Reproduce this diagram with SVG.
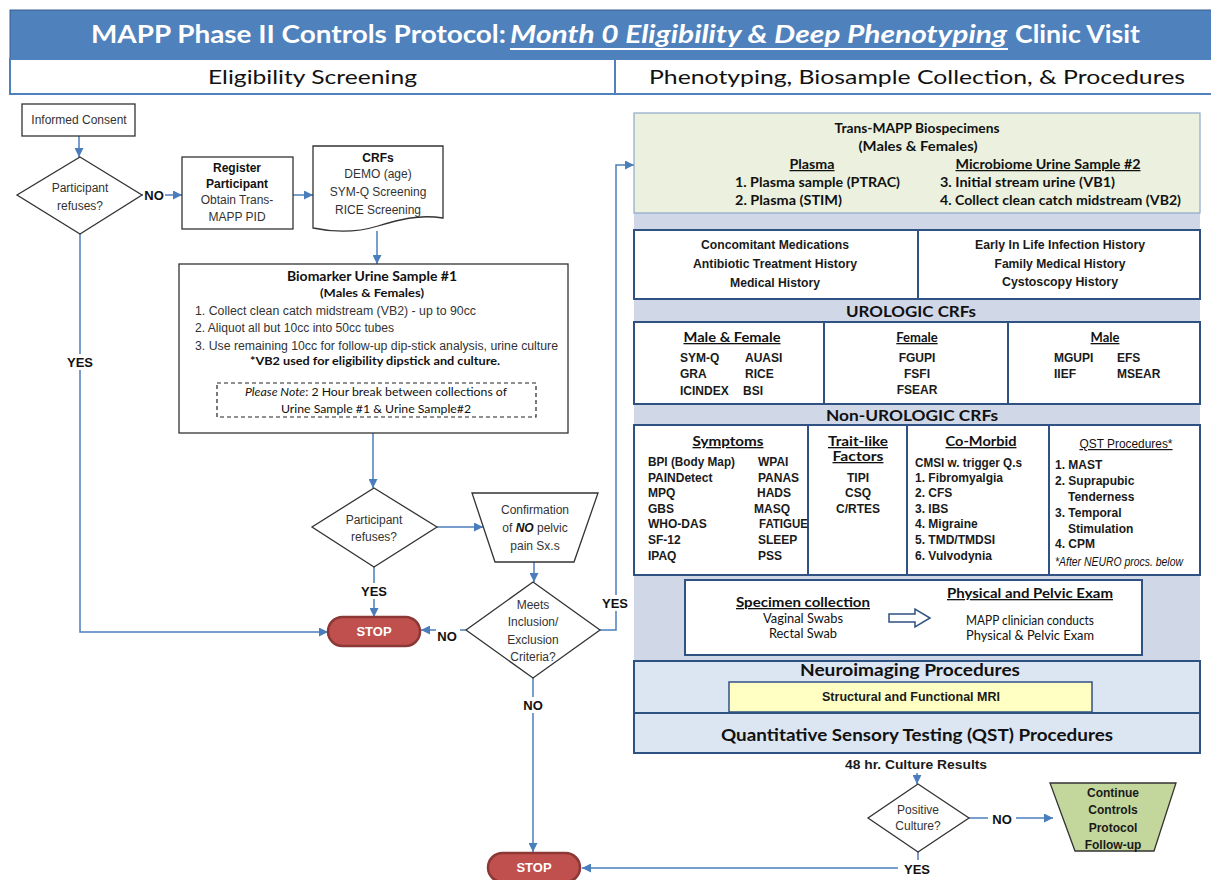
<svg xmlns="http://www.w3.org/2000/svg" width="1211" height="880" viewBox="0 0 1211 880">
<style>
.t{font-family:"Liberation Sans",Arial,sans-serif;font-size:12px;fill:#333}
.tb{font-family:"Liberation Sans",Arial,sans-serif;font-size:12px;font-weight:bold;fill:#1a1a1a}
.c{font-family:Lato,"Open Sans",sans-serif;fill:#111}
.cb{font-family:Lato,"Open Sans",sans-serif;font-weight:bold;fill:#111}
.lbl{font-family:"Liberation Sans",Arial,sans-serif;font-size:13px;font-weight:bold;fill:#111}
.m{text-anchor:middle}
.u{text-decoration:underline}
.node{fill:#fff;stroke:#333;stroke-width:1.3}
.stop{fill:#C0504D;stroke:#8C3836;stroke-width:2.5}
.stoptx{font-family:"Liberation Sans",Arial,sans-serif;font-size:13px;font-weight:bold;fill:#fff}
.pan{stroke:#2F5283;stroke-width:2}
.con{fill:none;stroke:#4A7EBB;stroke-width:1.5}
</style>
<defs>
<marker id="ah" viewBox="0 0 10 10" refX="10" refY="5" markerWidth="10" markerHeight="9" markerUnits="userSpaceOnUse" orient="auto"><path d="M0,0 L10,5 L0,10 z" fill="#4A7EBB"/></marker>
</defs>
<rect width="1211" height="880" fill="#fff"/>

<g id="header">
<rect x="10" y="10" width="1203" height="49" fill="#4F81BD" stroke="#3A5F8C" stroke-width="1"/>
<text x="91" y="43" class="c" font-size="25" font-weight="bold" style="fill:#fff" textLength="415" lengthAdjust="spacingAndGlyphs">MAPP Phase II Controls Protocol:</text>
<text x="510" y="43" class="c" font-size="25" font-weight="bold" font-style="italic" style="fill:#fff" textLength="497" lengthAdjust="spacingAndGlyphs">Month 0 Eligibility &amp; Deep Phenotyping</text>
<line x1="510" y1="49" x2="1008" y2="49" stroke="#fff" stroke-width="2"/>
<text x="1015" y="43" class="c" font-size="25" font-weight="bold" style="fill:#fff" textLength="125" lengthAdjust="spacingAndGlyphs">Clinic Visit</text>
<rect x="10" y="59" width="1203" height="35" fill="#fff" stroke="#4F81BD" stroke-width="2"/>
<line x1="615" y1="59" x2="615" y2="94" stroke="#4F81BD" stroke-width="2"/>
<text x="208" y="84" class="c" font-size="20" textLength="209" lengthAdjust="spacingAndGlyphs">Eligibility Screening</text>
<text x="649" y="84" class="c" font-size="20" textLength="536" lengthAdjust="spacingAndGlyphs">Phenotyping, Biosample Collection, &amp; Procedures</text>
</g>

<g id="connectors">
<path class="con" d="M79,136 V157" marker-end="url(#ah)"/>
<path class="con" d="M142,195 H182" marker-end="url(#ah)"/>
<path class="con" d="M293,195 H313" marker-end="url(#ah)"/>
<path class="con" d="M377,231 V264" marker-end="url(#ah)"/>
<path class="con" d="M373,433 V488" marker-end="url(#ah)"/>
<path class="con" d="M437,527 H483" marker-end="url(#ah)"/>
<path class="con" d="M534,562 V582" marker-end="url(#ah)"/>
<path class="con" d="M374,567 V617" marker-end="url(#ah)"/>
<path class="con" d="M466,630 H421" marker-end="url(#ah)"/>
<path class="con" d="M600,630 H616 V165 H634" marker-end="url(#ah)"/>
<path class="con" d="M533,678 V852" marker-end="url(#ah)"/>
<path class="con" d="M80,234 V632 H328" marker-end="url(#ah)"/>
<path class="con" d="M917,773 V784" marker-end="url(#ah)"/>
<path class="con" d="M969,818 H1053" marker-end="url(#ah)"/>
<path class="con" d="M918,852 V868 H582" marker-end="url(#ah)"/>
<rect x="143" y="187" width="22" height="16" fill="#fff"/>
<text x="154" y="200" class="lbl m">NO</text>
<rect x="62" y="354" width="36" height="16" fill="#fff"/>
<text x="80" y="367" class="lbl m">YES</text>
<rect x="356" y="583" width="36" height="16" fill="#fff"/>
<text x="374" y="596" class="lbl m">YES</text>
<rect x="436" y="628" width="24" height="16" fill="#fff"/>
<text x="447" y="641" class="lbl m">NO</text>
<rect x="598" y="595" width="36" height="16" fill="#fff"/>
<text x="615" y="608" class="lbl m">YES</text>
<rect x="520" y="697" width="26" height="16" fill="#fff"/>
<text x="533" y="710" class="lbl m">NO</text>
<rect x="988" y="811" width="28" height="16" fill="#fff"/>
<text x="1002" y="824" class="lbl m">NO</text>
<rect x="898" y="860" width="38" height="18" fill="#fff"/>
<text x="917" y="874" class="lbl m">YES</text>
</g>

<g id="informed-consent">
<rect class="node" x="22" y="104" width="113" height="32"/>
<text x="79" y="124" class="t m">Informed  Consent</text>
</g>
<g id="refuses-1">
<polygon class="node" points="80,157 142,195 80,234 17,195"/>
<text x="80" y="192" class="t m">Participant</text>
<text x="80" y="210" class="t m">refuses?</text>
</g>
<g id="register">
<rect class="node" x="182" y="157" width="111" height="72"/>
<text x="237" y="172" class="t m" font-weight="bold" style="fill:#111">Register</text>
<text x="237" y="188" class="t m" font-weight="bold" style="fill:#111">Participant</text>
<text x="237" y="204" class="t m">Obtain  Trans-</text>
<text x="237" y="221" class="t m">MAPP PID</text>
</g>
<g id="crfs">
<path class="node" d="M313,146 H443 V218 C418,214 398,220 378,226 C355,233 332,232 313,228 Z"/>
<text x="378" y="162" class="t m" font-weight="bold" style="fill:#111">CRFs</text>
<text x="378" y="178" class="t m">DEMO (age)</text>
<text x="378" y="196" class="t m">SYM-Q Screening</text>
<text x="378" y="214" class="t m">RICE Screening</text>
</g>
<g id="biomarker">
<rect class="node" x="179" y="264" width="389" height="169"/>
<text x="372" y="281" class="cb m" font-size="13.5" textLength="170" lengthAdjust="spacingAndGlyphs">Biomarker Urine Sample #1</text>
<text x="372" y="297" class="cb m" font-size="11.5" textLength="104" lengthAdjust="spacingAndGlyphs">(Males &amp; Females)</text>
<text x="195" y="315" class="t" textLength="281" lengthAdjust="spacingAndGlyphs">1. Collect clean catch midstream  (VB2) - up to 90cc</text>
<text x="195" y="332" class="t" textLength="199" lengthAdjust="spacingAndGlyphs">2. Aliquot all but 10cc into 50cc tubes</text>
<text x="195" y="350" class="t" textLength="363" lengthAdjust="spacingAndGlyphs">3. Use remaining  10cc for follow-up dip-stick analysis, urine culture</text>
<text x="375" y="365" class="cb m" font-size="11.5" textLength="250" lengthAdjust="spacingAndGlyphs">*VB2 used for eligibility dipstick and culture.</text>
<rect x="217" y="383" width="319" height="34" fill="none" stroke="#222" stroke-width="1.2" stroke-dasharray="4,3"/>
<text x="376" y="396" class="c m" font-size="12" textLength="262" lengthAdjust="spacingAndGlyphs"><tspan font-style="italic">Please Note</tspan>: 2 Hour break between collections of</text>
<text x="376" y="413" class="c m" font-size="12" textLength="190" lengthAdjust="spacingAndGlyphs">Urine Sample #1 &amp; Urine Sample#2</text>
</g>
<g id="refuses-2">
<polygon class="node" points="374,488 437,527 374,567 312,527"/>
<text x="374" y="524" class="t m">Participant</text>
<text x="374" y="541" class="t m">refuses?</text>
</g>
<g id="confirmation">
<polygon class="node" points="472,493 598,493 574,562 495,562"/>
<text x="535" y="514" class="t m">Confirmation</text>
<text x="535" y="532" class="t m">of <tspan font-weight="bold" font-style="italic" style="fill:#111">NO</tspan> pelvic</text>
<text x="535" y="550" class="t m">pain  Sx.s</text>
</g>
<g id="criteria">
<polygon class="node" points="533,582 600,630 533,678 466,630"/>
<text x="533" y="609" class="t m">Meets</text>
<text x="533" y="626" class="t m">Inclusion/</text>
<text x="533" y="644" class="t m">Exclusion</text>
<text x="533" y="661" class="t m">Criteria?</text>
</g>
<g id="stop-1">
<rect class="stop" x="328" y="617" width="92" height="29" rx="14.5"/>
<text x="374" y="636" class="stoptx m">STOP</text>
</g>
<g id="stop-2">
<rect class="stop" x="488" y="853" width="92" height="29" rx="14.5"/>
<text x="534" y="872" class="stoptx m">STOP</text>
</g>

<g id="panel">
<rect x="634" y="213" width="566" height="448" fill="#D0D8E8"/>
<rect x="634" y="113" width="566" height="100" fill="#EBF1DE" stroke="#8EA9C8" stroke-width="1.2"/>
<text x="917" y="133" class="cb m" font-size="12.5" textLength="165" lengthAdjust="spacingAndGlyphs">Trans-MAPP Biospecimens</text>
<text x="918" y="151" class="cb m" font-size="12.5" textLength="119" lengthAdjust="spacingAndGlyphs">(Males &amp; Females)</text>
<text x="812" y="169" class="cb m u" font-size="12.5" textLength="45" lengthAdjust="spacingAndGlyphs">Plasma</text>
<text x="1048" y="169" class="cb m u" font-size="12.5" textLength="185" lengthAdjust="spacingAndGlyphs">Microbiome  Urine Sample #2</text>
<text x="735" y="187" class="cb" font-size="12.5" textLength="165" lengthAdjust="spacingAndGlyphs">1. Plasma sample (PTRAC)</text>
<text x="735" y="205" class="cb" font-size="12.5" textLength="107" lengthAdjust="spacingAndGlyphs">2. Plasma (STIM)</text>
<text x="940" y="187" class="cb" font-size="12.5" textLength="175" lengthAdjust="spacingAndGlyphs">3. Initial stream urine  (VB1)</text>
<text x="940" y="205" class="cb" font-size="12.5" textLength="241" lengthAdjust="spacingAndGlyphs">4. Collect clean catch midstream (VB2)</text>
</g>
<g id="history">
<rect class="pan" x="634" y="230" width="566" height="69" fill="#fff"/>
<line class="pan" x1="918" y1="230" x2="918" y2="299"/>
<text x="775" y="249" class="tb m" font-size="13" textLength="148" lengthAdjust="spacingAndGlyphs">Concomitant Medications</text>
<text x="775" y="268" class="tb m" font-size="13" textLength="164" lengthAdjust="spacingAndGlyphs">Antibiotic Treatment History</text>
<text x="775" y="287" class="tb m" font-size="13" textLength="90" lengthAdjust="spacingAndGlyphs">Medical History</text>
<text x="1060" y="249" class="tb m" font-size="13" textLength="170" lengthAdjust="spacingAndGlyphs">Early  In Life Infection  History</text>
<text x="1060" y="268" class="tb m" font-size="13" textLength="131" lengthAdjust="spacingAndGlyphs">Family Medical History</text>
<text x="1060" y="286" class="tb m" font-size="13" textLength="116" lengthAdjust="spacingAndGlyphs">Cystoscopy  History</text>
</g>
<g id="urologic">
<text x="911" y="317" class="cb m" font-size="16" textLength="130" lengthAdjust="spacingAndGlyphs">UROLOGIC CRFs</text>
<rect class="pan" x="634" y="322" width="566" height="82" fill="#fff"/>
<line class="pan" x1="824" y1="322" x2="824" y2="404"/>
<line class="pan" x1="1008" y1="322" x2="1008" y2="404"/>
<text x="732" y="342" class="cb m u" font-size="13" textLength="97" lengthAdjust="spacingAndGlyphs">Male &amp; Female</text>
<text x="680" y="362" class="tb">SYM-Q</text><text x="745" y="362" class="tb">AUASI</text>
<text x="680" y="378" class="tb">GRA</text><text x="745" y="378" class="tb">RICE</text>
<text x="680" y="395" class="tb">ICINDEX</text><text x="743" y="395" class="tb">BSI</text>
<text x="917" y="342" class="cb m u" font-size="13">Female</text>
<text x="917" y="362" class="tb m">FGUPI</text>
<text x="917" y="378" class="tb m">FSFI</text>
<text x="917" y="394" class="tb m">FSEAR</text>
<text x="1105" y="342" class="cb m u" font-size="13">Male</text>
<text x="1054" y="362" class="tb">MGUPI</text><text x="1117" y="362" class="tb">EFS</text>
<text x="1054" y="378" class="tb">IIEF</text><text x="1117" y="378" class="tb">MSEAR</text>
</g>
<g id="non-urologic">
<text x="912" y="421" class="cb m" font-size="16" textLength="172" lengthAdjust="spacingAndGlyphs">Non-UROLOGIC CRFs</text>
<rect class="pan" x="634" y="425" width="566" height="150" fill="#fff"/>
<line class="pan" x1="808" y1="425" x2="808" y2="575"/>
<line class="pan" x1="907" y1="425" x2="907" y2="575"/>
<line class="pan" x1="1049" y1="425" x2="1049" y2="575"/>
<text x="728" y="446" class="cb m u" font-size="13" textLength="71" lengthAdjust="spacingAndGlyphs">Symptoms</text>
<text x="648" y="466" class="tb" textLength="87" lengthAdjust="spacingAndGlyphs">BPI (Body Map)</text><text x="758" y="466" class="tb">WPAI</text>
<text x="648" y="482" class="tb">PAINDetect</text><text x="758" y="482" class="tb">PANAS</text>
<text x="648" y="497" class="tb">MPQ</text><text x="757" y="497" class="tb">HADS</text>
<text x="648" y="513" class="tb">GBS</text><text x="754" y="513" class="tb">MASQ</text>
<text x="648" y="528" class="tb">WHO-DAS</text><text x="759" y="528" class="tb" textLength="49" lengthAdjust="spacingAndGlyphs">FATIGUE</text>
<text x="648" y="544" class="tb">SF-12</text><text x="758" y="544" class="tb">SLEEP</text>
<text x="648" y="560" class="tb">IPAQ</text><text x="758" y="560" class="tb">PSS</text>
<text x="858" y="446" class="cb m u" font-size="13" textLength="60" lengthAdjust="spacingAndGlyphs">Trait-like</text>
<text x="858" y="461" class="cb m u" font-size="13" textLength="51" lengthAdjust="spacingAndGlyphs">Factors</text>
<text x="858" y="482" class="tb m">TIPI</text>
<text x="858" y="497" class="tb m">CSQ</text>
<text x="858" y="513" class="tb m">C/RTES</text>
<text x="981" y="446" class="cb m u" font-size="13" textLength="71" lengthAdjust="spacingAndGlyphs">Co-Morbid</text>
<text x="915" y="467" class="tb" textLength="107" lengthAdjust="spacingAndGlyphs">CMSI w. trigger Q.s</text>
<text x="915" y="482" class="tb">1. Fibromyalgia</text>
<text x="915" y="497" class="tb">2. CFS</text>
<text x="915" y="513" class="tb">3. IBS</text>
<text x="915" y="528" class="tb">4. Migraine</text>
<text x="915" y="544" class="tb">5. TMD/TMDSI</text>
<text x="915" y="560" class="tb">6. Vulvodynia</text>
<text x="1126" y="448" class="t m u" style="fill:#111" textLength="93" lengthAdjust="spacingAndGlyphs">QST Procedures*</text>
<text x="1055" y="469" class="tb">1. MAST</text>
<text x="1055" y="485" class="tb">2. Suprapubic</text>
<text x="1068" y="501" class="tb">Tenderness</text>
<text x="1055" y="517" class="tb">3. Temporal</text>
<text x="1068" y="533" class="tb">Stimulation</text>
<text x="1055" y="548" class="tb">4. CPM</text>
<text x="1055" y="566" class="t" font-size="9" font-style="italic" style="fill:#111" textLength="128" lengthAdjust="spacingAndGlyphs">*After  NEURO  procs. below</text>
</g>
<g id="specimen-exam">
<rect class="pan" x="685" y="580" width="457" height="75" fill="#fff"/>
<text x="803" y="607" class="cb m u" font-size="13" textLength="134" lengthAdjust="spacingAndGlyphs">Specimen collection</text>
<text x="803" y="623" class="c m" font-size="12.5" textLength="80" lengthAdjust="spacingAndGlyphs">Vaginal Swabs</text>
<text x="803" y="638" class="c m" font-size="12.5" textLength="68" lengthAdjust="spacingAndGlyphs">Rectal Swab</text>
<polygon points="889,614 915,614 915,609 930,618 915,627 915,622 889,622" fill="#fff" stroke="#2F5283" stroke-width="1.5"/>
<text x="1030" y="598" class="cb m u" font-size="13" textLength="166" lengthAdjust="spacingAndGlyphs">Physical and Pelvic Exam</text>
<text x="1030" y="625" class="c m" font-size="12.5" textLength="128" lengthAdjust="spacingAndGlyphs">MAPP clinician conducts</text>
<text x="1030" y="640" class="c m" font-size="12.5" textLength="128" lengthAdjust="spacingAndGlyphs">Physical &amp; Pelvic Exam</text>
</g>
<g id="neuroimaging">
<rect class="pan" x="634" y="661" width="566" height="52" fill="#DCE6F2"/>
<text x="910" y="676" class="cb m" font-size="17" textLength="220" lengthAdjust="spacingAndGlyphs">Neuroimaging Procedures</text>
<rect x="729" y="682" width="363" height="30" fill="#FFFFC4" stroke="#2F5283" stroke-width="1.5"/>
<text x="911" y="701" class="tb m" font-size="13" textLength="178" lengthAdjust="spacingAndGlyphs">Structural and Functional  MRI</text>
</g>
<g id="qst">
<rect class="pan" x="634" y="713" width="566" height="40" fill="#DCE6F2"/>
<text x="917" y="741" class="cb m" font-size="17" textLength="392" lengthAdjust="spacingAndGlyphs">Quantitative Sensory Testing (QST) Procedures</text>
</g>
<text x="916" y="769" class="tb m" font-size="13" textLength="142" lengthAdjust="spacingAndGlyphs">48 hr. Culture Results</text>
<g id="positive-culture">
<polygon class="node" points="918,784 969,818 918,852 868,818"/>
<text x="918" y="814" class="t m" font-size="11">Positive</text>
<text x="918" y="830" class="t m" font-size="11">Culture?</text>
</g>
<g id="continue">
<polygon points="1050,783 1176,783 1154,851 1075,851" fill="#C3D69B" stroke="#333" stroke-width="1.3"/>
<text x="1113" y="797" class="tb m" font-size="12.5">Continue</text>
<text x="1113" y="814" class="tb m" font-size="12.5">Controls</text>
<text x="1113" y="832" class="tb m" font-size="12.5">Protocol</text>
<text x="1113" y="849" class="tb m" font-size="12.5">Follow-up</text>
</g>
</svg>
